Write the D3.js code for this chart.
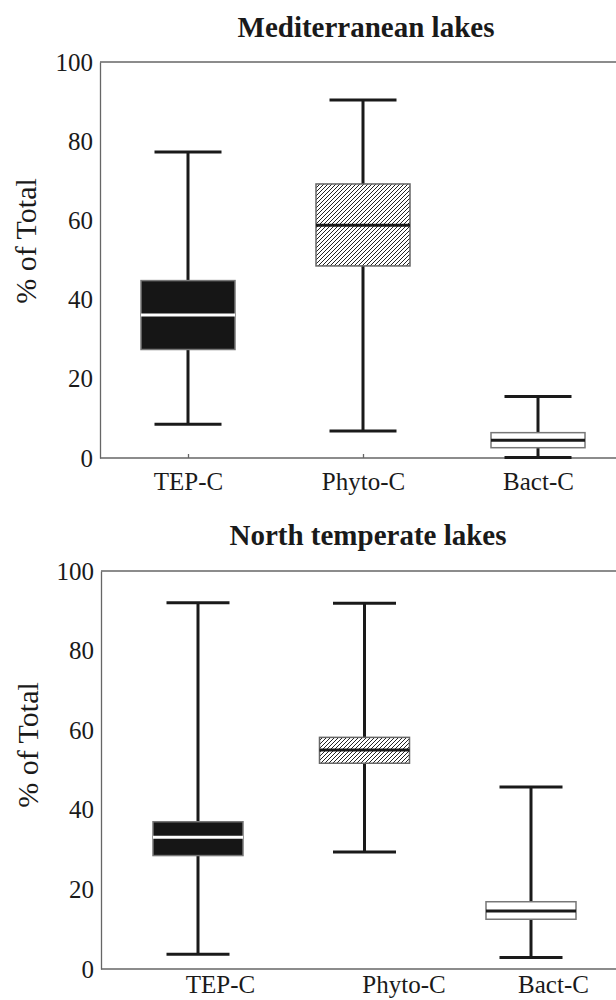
<!DOCTYPE html>
<html>
<head>
<meta charset="utf-8">
<script src="https://cdn.jsdelivr.net/npm/d3@7"></script>
<style>
  body { margin: 0; background: #fff; }
  svg text { font-family: "Liberation Serif", "Times New Roman", serif; fill: #1a1a1a; }
</style>
</head>
<body>
<svg id="chart" width="616" height="1000"></svg>
<script>
// categories and box stats (min, q1, median, q3, max) in % of total
var categories = ["TEP-C", "Phyto-C", "Bact-C"];
var yTicks = [0, 20, 40, 60, 80, 100];

var medLow = [8.5, 6.8, 0.1];
var medQ1 = [27.4, 48.5, 2.6];
var medMedian = [36.1, 58.8, 4.5];
var medQ3 = [44.8, 69.2, 6.4];
var medHigh = [77.3, 90.4, 15.5];

var northLow = [3.7, 29.4, 2.9];
var northQ1 = [28.5, 51.7, 12.5];
var northMedian = [33.1, 55.0, 14.6];
var northQ3 = [37.0, 58.2, 16.9];
var northHigh = [92.0, 91.9, 45.7];

var serif = '"Liberation Serif", "Times New Roman", serif';
var svg = d3.select("#chart");

// hatch pattern for the phyto box
var defs = svg.append("defs");
var pat = defs.append("pattern")
  .attr("id", "hatch")
  .attr("patternUnits", "userSpaceOnUse")
  .attr("width", 4)
  .attr("height", 4);
pat.append("rect").attr("width", 4).attr("height", 4).attr("fill", "#fff");
pat.append("path")
  .attr("d", "M-1,1 l2,-2 M0,4 l4,-4 M3,5 l2,-2")
  .attr("stroke", "#222")
  .attr("stroke-width", 1);

var boxFill = ["#161616", "url(#hatch)", "#fff"];
var medianColor = ["#fff", "#1a1a1a", "#1a1a1a"];
var boxStroke = ["#777", "#666", "#777"];

var drawPanel = function(opts){
  var g = svg.append("g");
  var y = d3.scaleLinear().domain([0, 100]).range([opts.bottom, opts.top]);
  var x = d3.scalePoint().domain(categories).range(opts.xRange);

  var rows = categories.map(function(c, i){
    return {cat: c, i: i, low: opts.low[i], q1: opts.q1[i], med: opts.median[i], q3: opts.q3[i], high: opts.high[i]};
  });

  // frame: top line
  g.append("line")
    .attr("x1", opts.left).attr("x2", 616)
    .attr("y1", y(100)).attr("y2", y(100))
    .attr("stroke", "#666").attr("stroke-width", 1.3);

  // y axis
  var yAxis = g.append("g")
    .attr("transform", "translate(" + opts.left + ",0)")
    .call(d3.axisLeft(y).tickValues(yTicks).tickSize(0).tickPadding(7));
  yAxis.attr("font-family", null).attr("font-size", null);
  yAxis.select(".domain").attr("stroke", "#666").attr("stroke-width", 1.3);
  yAxis.selectAll("text")
    .style("font-family", serif).style("font-size", "25px")
    .attr("fill", "#1a1a1a");

  // x axis
  var xAxis = g.append("g")
    .attr("transform", "translate(0," + opts.bottom + ")")
    .call(d3.axisBottom(x).tickSize(opts.tickSize).tickSizeOuter(0).tickPadding(0));
  xAxis.attr("font-family", null).attr("font-size", null);
  xAxis.select(".domain")
    .attr("d", "M" + opts.left + ",0H616")
    .attr("stroke", "#666").attr("stroke-width", 1.3);
  xAxis.selectAll(".tick line").attr("stroke", "#666").attr("stroke-width", 1.3);
  xAxis.selectAll(".tick text")
    .style("font-family", serif).style("font-size", "25px")
    .attr("fill", "#1a1a1a")
    .attr("dy", null)
    .attr("y", opts.labelY - opts.bottom)
    .attr("x", function(d, i){ return opts.labelDx[i]; });

  // whiskers
  var boxes = g.selectAll(".box").data(rows).enter().append("g").attr("class", "box");
  boxes.append("line")
    .attr("x1", function(d){ return x(d.cat); })
    .attr("x2", function(d){ return x(d.cat); })
    .attr("y1", function(d){ return y(d.low); })
    .attr("y2", function(d){ return y(d.high); })
    .attr("stroke", "#1a1a1a").attr("stroke-width", 3);
  ["low", "high"].forEach(function(k){
    boxes.append("line")
      .attr("x1", function(d){ return x(d.cat) - opts.capW / 2; })
      .attr("x2", function(d){ return x(d.cat) + opts.capW / 2; })
      .attr("y1", function(d){ return y(d[k]); })
      .attr("y2", function(d){ return y(d[k]); })
      .attr("stroke", "#1a1a1a").attr("stroke-width", 3);
  });
  // boxes
  boxes.append("rect")
    .attr("x", function(d){ return x(d.cat) - opts.boxW / 2; })
    .attr("width", opts.boxW)
    .attr("y", function(d){ return y(d.q3); })
    .attr("height", function(d){ return y(d.q1) - y(d.q3); })
    .attr("fill", function(d){ return boxFill[d.i]; })
    .attr("stroke", function(d){ return boxStroke[d.i]; })
    .attr("stroke-width", 1.5);
  boxes.append("line")
    .attr("x1", function(d){ return x(d.cat) - opts.boxW / 2; })
    .attr("x2", function(d){ return x(d.cat) + opts.boxW / 2; })
    .attr("y1", function(d){ return y(d.med); })
    .attr("y2", function(d){ return y(d.med); })
    .attr("stroke", function(d){ return medianColor[d.i]; })
    .attr("stroke-width", 3);

  // title
  g.append("text")
    .attr("x", opts.titleX).attr("y", opts.titleY)
    .attr("text-anchor", "middle")
    .attr("font-size", 29).attr("font-weight", "bold")
    .text(opts.title);

  // y label
  g.append("text")
    .attr("transform", "translate(" + opts.ylabX + "," + opts.ylabY + ") rotate(-90)")
    .attr("text-anchor", "middle")
    .attr("dy", "0.35em")
    .attr("font-size", 30)
    .text("% of Total");
};

drawPanel({
  title: "Mediterranean lakes", titleX: 366, titleY: 37,
  top: 62, bottom: 458, left: 100, xRange: [188, 538],
  boxW: 94, capW: 67, tickSize: -4,
  labelY: 490, labelDx: [0, 0, 0],
  ylabX: 25, ylabY: 241,
  low: medLow, q1: medQ1, median: medMedian, q3: medQ3, high: medHigh
});

drawPanel({
  title: "North temperate lakes", titleX: 368, titleY: 545,
  top: 571, bottom: 969, left: 101, xRange: [198, 531],
  boxW: 90, capW: 63, tickSize: 0,
  labelY: 993, labelDx: [22, 39, 22],
  ylabX: 27, ylabY: 745,
  low: northLow, q1: northQ1, median: northMedian, q3: northQ3, high: northHigh
});
</script>
</body>
</html>
